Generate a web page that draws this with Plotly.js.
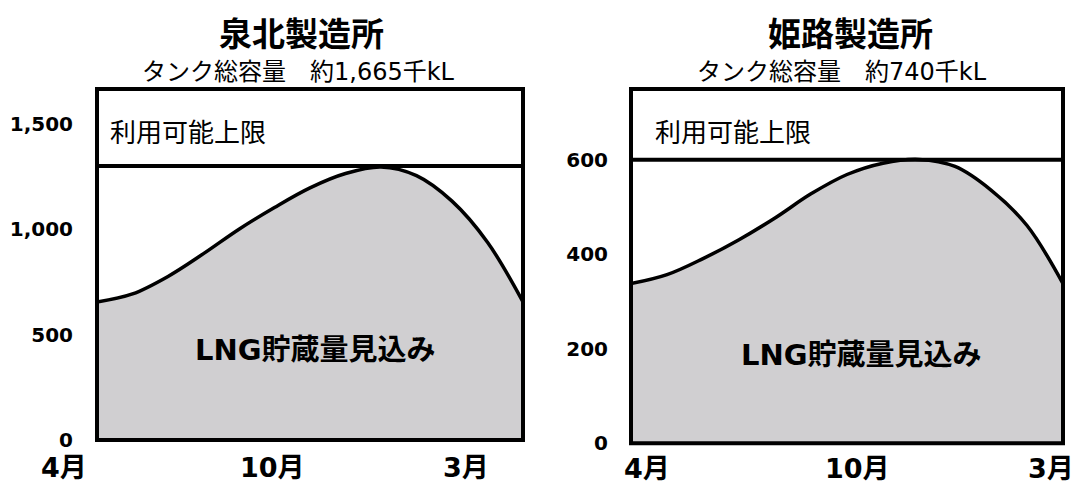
<!DOCTYPE html>
<html>
<head>
<meta charset="utf-8">
<script src="https://cdn.plot.ly/plotly-3.0.1.min.js"></script>
<style>html,body{margin:0;padding:0;background:#fff;}#chart{width:1076px;height:486px;}</style>
</head>
<body>
<div id="chart"></div>
<script>
// ---- data ----
const plantNames = ['泉北製造所', '姫路製造所'];
const capacityTexts = ['タンク総容量　約1,665千kL', 'タンク総容量　約740千kL'];
const tankCapacity = [1665, 750];          // drawn top of each box (千kL)
const usableLimit = [1300, 600];           // 利用可能上限 (千kL)
const monthIndex = [0, 1, 2, 3, 4, 5, 6, 7, 8, 9, 10, 11, 12]; // April start .. March end
const senbokuStock = [655, 693, 776, 884, 1000, 1103, 1196, 1264, 1295, 1254, 1133, 938, 655];
const himejiStock  = [338, 357, 391, 431, 477, 528, 569, 593, 601, 586, 536, 461, 338];
const yTicksSenboku = [0, 500, 1000, 1500];
const yTicksHimeji = [0, 200, 400, 600];
const monthLabels = ['4月', '10月', '3月'];
const limitLabel = '利用可能上限';
const stockLabel = 'LNG貯蔵量見込み';

// ---- layout helpers ----
const W = 1076, H = 486;
const px = x => x / W;
const py = y => 1 - y / H;
const LAT = '"DejaVu Sans", "Noto Sans CJK JP", sans-serif';
const CJK = '"Noto Sans CJK JP", "DejaVu Sans", sans-serif';
const FILL = '#d0cfd1';

const stocks = [senbokuStock, himejiStock];
const yTicks = [yTicksSenboku, yTicksHimeji];
const xDomains = [[px(97), px(523)], [px(631), px(1063)]];
const yDomains = [[py(440), py(89)], [py(443.3), py(89)]];
const monthLabelPos = [[-0.077, 0.412, 0.866], [0.038, 0.524, 0.973]];
const monthLabelY = [467, 468];
const titleX = [301, 850];
const titleY = [32, 32];
const subX = [298, 842];
const subY = [72, 72];
const limitTextX = [108, 653];
const limitTextY = [131, 131];
const stockTextX = [315, 861];
const stockTextY = [350, 355];
const tickStandoff = [23, 22];

const traces = [];
const shapes = [];
const annotations = [];
const layout = {
  width: W, height: H,
  margin: {l: 0, r: 0, t: 0, b: 0},
  paper_bgcolor: '#fff', plot_bgcolor: '#fff',
  showlegend: false,
  font: {family: LAT, color: '#000'}
};

for (let i = 0; i < 2; i++) {
  const sfx = i === 0 ? '' : '2';
  const xa = 'x' + sfx, ya = 'y' + sfx;
  traces.push({
    type: 'scatter', mode: 'lines',
    x: monthIndex, y: stocks[i],
    xaxis: xa, yaxis: ya,
    line: {color: '#000', width: 3.5, shape: 'spline', smoothing: 1},
    fill: 'tozeroy', fillcolor: FILL,
    hoverinfo: 'skip'
  });
  layout['xaxis' + sfx] = {
    domain: xDomains[i], range: [0, 12],
    showgrid: false, zeroline: false, showline: false,
    showticklabels: false, ticks: '', anchor: ya
  };
  layout['yaxis' + sfx] = {
    domain: yDomains[i], range: [0, tankCapacity[i]],
    showgrid: false, zeroline: false, showline: false,
    tickvals: yTicks[i], tickformat: ',d', ticks: '',
    ticklabelstandoff: tickStandoff[i],
    tickfont: {family: LAT, size: 20, weight: 'bold', color: '#000'},
    anchor: xa
  };
  // limit line
  shapes.push({
    type: 'line', xref: xa + ' domain', yref: ya,
    x0: 0, x1: 1, y0: usableLimit[i], y1: usableLimit[i],
    line: {color: '#000', width: 4}
  });
  // box
  shapes.push({
    type: 'rect', xref: xa + ' domain', yref: ya + ' domain',
    x0: 0, x1: 1, y0: 0, y1: 1,
    line: {color: '#000', width: 4}, fillcolor: 'rgba(0,0,0,0)'
  });
  annotations.push({
    text: plantNames[i], xref: 'paper', yref: 'paper',
    x: px(titleX[i]), y: py(titleY[i]), xanchor: 'center', yanchor: 'middle',
    showarrow: false, font: {family: CJK, size: 33, weight: 'bold', color: '#000'}
  });
  annotations.push({
    text: capacityTexts[i], xref: 'paper', yref: 'paper',
    x: px(subX[i]), y: py(subY[i]), xanchor: 'center', yanchor: 'middle',
    showarrow: false, font: {family: LAT, size: 24, color: '#000'}
  });
  annotations.push({
    text: limitLabel, xref: 'paper', yref: 'paper',
    x: px(limitTextX[i]), y: py(limitTextY[i]), xanchor: 'left', yanchor: 'middle',
    showarrow: false, font: {family: CJK, size: 26, color: '#000'}
  });
  annotations.push({
    text: stockLabel, xref: 'paper', yref: 'paper',
    x: px(stockTextX[i]), y: py(stockTextY[i]), xanchor: 'center', yanchor: 'middle',
    showarrow: false, font: {family: LAT, size: 29, weight: 'bold', color: '#000'}
  });
  monthLabels.forEach((lab, k) => {
    annotations.push({
      text: lab, xref: xa + ' domain', yref: 'paper',
      x: monthLabelPos[i][k], y: py(monthLabelY[i]), xanchor: 'center', yanchor: 'middle',
      showarrow: false, font: {family: LAT, size: 27, weight: 'bold', color: '#000'}
    });
  });
}
layout.shapes = shapes;
layout.annotations = annotations;

Plotly.newPlot('chart', traces, layout, {staticPlot: true, displayModeBar: false});
</script>
</body>
</html>
